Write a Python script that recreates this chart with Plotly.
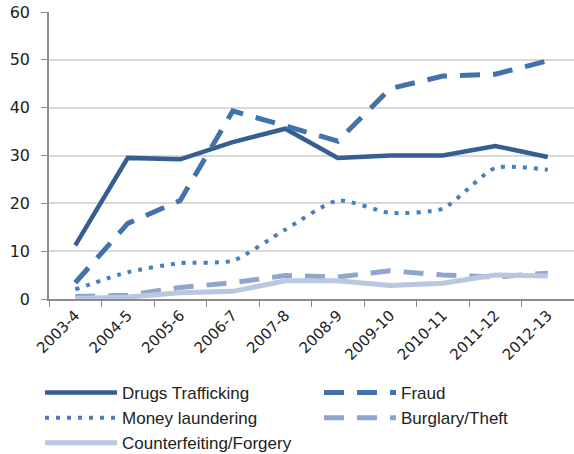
import plotly.graph_objects as go

years = ["2003-4", "2004-5", "2005-6", "2006-7", "2007-8", "2008-9",
         "2009-10", "2010-11", "2011-12", "2012-13"]
drugs = [11.2, 29.5, 29.2, 32.8, 35.6, 29.5, 30.0, 30.0, 32.0, 29.7]
fraud = [3.4, 15.8, 20.6, 39.3, 36.2, 33.0, 44.0, 46.6, 47.0, 49.8]
money = [2.0, 5.6, 7.5, 8.0, 14.5, 20.6, 18.0, 18.9, 27.4, 27.0]
burglary = [0.5, 0.8, 2.4, 3.4, 4.9, 4.6, 5.9, 5.0, 4.6, 5.4]
counterfeit = [0.1, 0.4, 1.3, 1.6, 3.8, 3.8, 2.8, 3.3, 5.0, 4.8]

fig = go.Figure()
fig.add_trace(go.Scatter(x=years, y=drugs, name="Drugs Trafficking", mode="lines",
                         line=dict(color="#375E91", width=4.5)))
fig.add_trace(go.Scatter(x=years, y=fraud, name="Fraud", mode="lines",
                         line=dict(color="#4372AB", width=5, dash="20px,13px")))
fig.add_trace(go.Scatter(x=years, y=money, name="Money laundering", mode="lines",
                         line=dict(color="#4A7EBB", width=4, dash="4px,7px",
                                   shape="spline", smoothing=0.6)))
fig.add_trace(go.Scatter(x=years, y=burglary, name="Burglary/Theft", mode="lines",
                         line=dict(color="#8EA6CE", width=5, dash="20px,13px")))
fig.add_trace(go.Scatter(x=years, y=counterfeit, name="Counterfeiting/Forgery", mode="lines",
                         line=dict(color="#B9C7E0", width=5)))

fig.update_layout(
    width=574, height=454,
    margin=dict(l=49, r=0, t=12, b=155, autoexpand=False),
    paper_bgcolor="white", plot_bgcolor="white",
    font=dict(family="Liberation Sans, Arial, sans-serif", size=17, color="#222222"),
    showlegend=True,
    legend=dict(orientation="h", xref="paper", yref="paper",
                x=-0.0171, y=-0.265, xanchor="left", yanchor="top",
                entrywidth=192, entrywidthmode="pixels", itemwidth=72,
                font=dict(family="Liberation Sans, Arial, sans-serif", size=17, color="#222222"),
                tracegroupgap=0),
    xaxis=dict(type="category", range=[-0.5, 9.5], tickangle=-45, showgrid=False,
               showline=True, linecolor="#8C8C8C", linewidth=1.5,
               ticks="outside", tickson="boundaries", ticklen=6, tickcolor="#8C8C8C",
               tickfont=dict(family="DejaVu Sans, sans-serif", size=15)),
    yaxis=dict(range=[0, 60], dtick=10, showgrid=True, gridcolor="#D9D9D9", gridwidth=1.5,
               showline=True, linecolor="#8C8C8C", linewidth=1.5,
               ticks="outside", ticklen=6, tickcolor="#8C8C8C", ticklabelstandoff=8,
               zeroline=False, tickfont=dict(family="DejaVu Sans, sans-serif", size=16)),
)

fig.write_html("out.html", config={"displayModeBar": False},
               post_script="document.body.style.margin='0';document.body.style.overflow='hidden';")
